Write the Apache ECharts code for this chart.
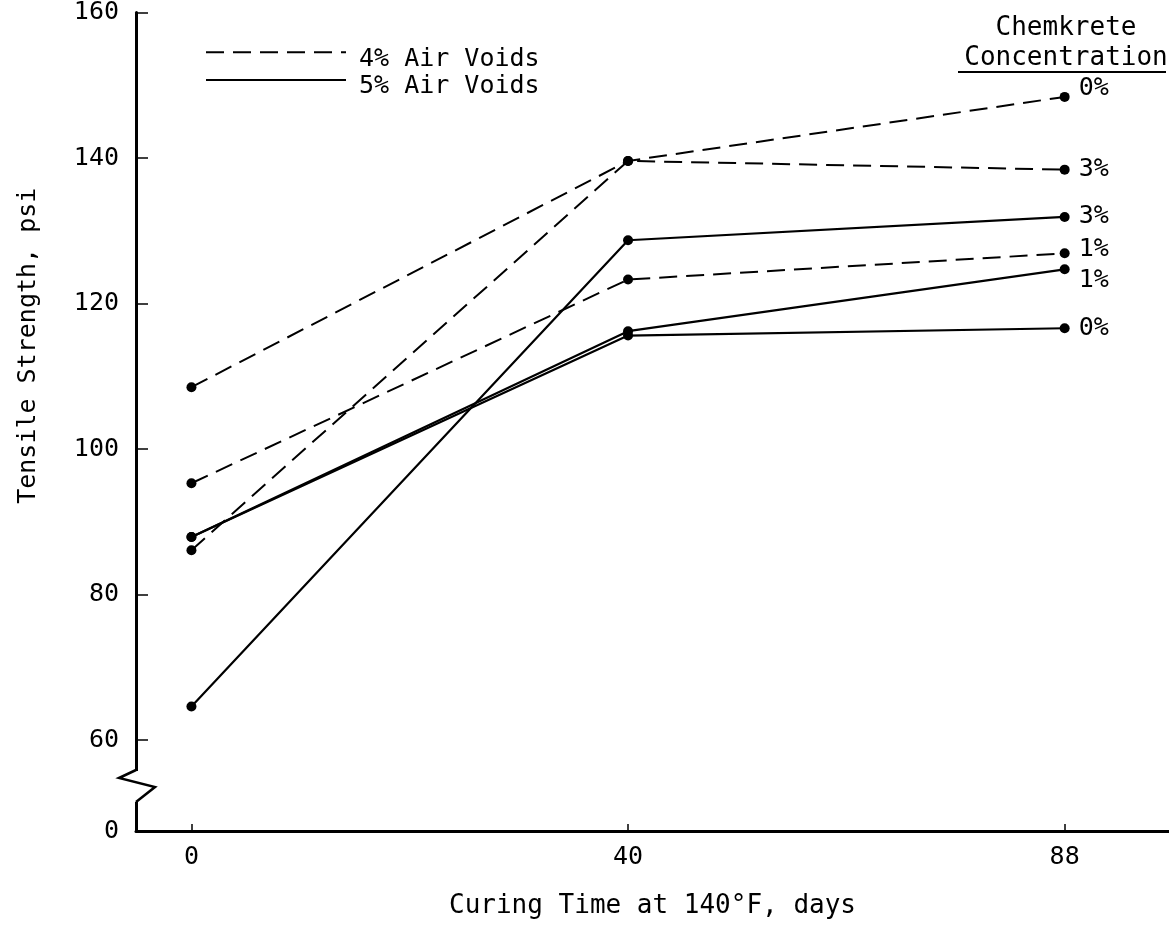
<!DOCTYPE html>
<html>
<head>
    <meta charset="utf-8" />
    <style>
        html, body { margin: 0; padding: 0; background: #fff; }
        #chart { width: 1169px; height: 928px; }
    </style>
    <script src="https://cdn.jsdelivr.net/npm/echarts@6/dist/echarts.min.js"></script>
</head>
<body>
    <div id="chart"></div>
    <script type="text/javascript">
        // curing time categories (days) - drawn evenly spaced like the original
        var days = ['0', '40', '88'];
        var yTicks = [60, 80, 100, 120, 140, 160];

        // tensile strength, psi - 4% air voids (dashed)
        var av4_conc0 = [108.5, 139.6, 148.4];
        var av4_conc3 = [86.1, 139.6, 138.4];
        var av4_conc1 = [95.3, 123.3, 126.9];
        // 5% air voids (solid)
        var av5_conc3 = [64.6, 128.7, 131.9];
        var av5_conc1 = [87.9, 116.2, 124.7];
        var av5_conc0 = [87.9, 115.6, 116.6];

        var FONT = 'DejaVu Sans Mono';
        var INK = '#000';
        var BREAK_MIN = 47.5; // bottom of broken axis, labelled 0

        function pts(vals) {
            return vals.map(function (v, i) { return [i, v]; });
        }

        function makeSeries(name, vals, dashed, conc, dy) {
            return {
                name: name,
                type: 'line',
                data: pts(vals),
                symbol: 'circle',
                symbolSize: 10,
                itemStyle: { color: INK },
                lineStyle: { color: INK, width: dashed ? 2 : 2.2, type: dashed ? [18, 9] : 'solid' },
                endLabel: {
                    show: true,
                    formatter: conc,
                    color: INK,
                    fontFamily: FONT,
                    fontSize: 25,
                    distance: 14,
                    offset: [0, dy]
                },
                emphasis: { disabled: true },
                animation: false
            };
        }

        var chart = echarts.init(document.getElementById('chart'));
        var option = {
            backgroundColor: '#fff',
            textStyle: { fontFamily: FONT, color: INK },
            title: {
                text: 'Chemkrete\nConcentration',
                left: 1061,
                top: 8,
                textAlign: 'center',
                textStyle: { fontFamily: FONT, fontSize: 26, fontWeight: 'normal', color: INK, lineHeight: 30 }
            },
            legend: {
                left: 200,
                top: 40,
                orient: 'vertical',
                itemWidth: 140,
                itemHeight: 18,
                itemGap: 1,
                data: ['4% Air Voids', '5% Air Voids'],
                itemStyle: { opacity: 0 },
                formatter: function (name) { return '{t|' + name + '}'; },
                textStyle: {
                    fontFamily: FONT, fontSize: 25, color: INK,
                    rich: { t: { fontFamily: FONT, fontSize: 25, color: INK, padding: [14, 0, 0, 8] } }
                }
            },
            grid: { left: 136, top: 12, width: 1033, height: 819 },
            xAxis: {
                type: 'value',
                min: -0.127,
                max: 2.239,
                axisLine: { onZero: false, lineStyle: { color: INK, width: 3 } },
                axisTick: { inside: true, length: 7, lineStyle: { color: INK, width: 1.5 }, customValues: [0, 1, 2] },
                axisLabel: {
                    customValues: [0, 1, 2],
                    formatter: function (v) { return days[Math.round(v)]; },
                    fontFamily: FONT, fontSize: 25, color: INK, margin: 14
                },
                splitLine: { show: false },
                name: 'Curing Time at 140°F, days',
                nameLocation: 'middle',
                nameGap: 62,
                nameTextStyle: { fontFamily: FONT, fontSize: 26, color: INK }
            },
            yAxis: {
                type: 'value',
                min: BREAK_MIN,
                max: 160,
                axisLine: { onZero: false, lineStyle: { color: INK, width: 3 } },
                axisTick: { inside: true, length: 12, lineStyle: { color: INK, width: 1.5 }, customValues: yTicks },
                axisLabel: {
                    customValues: [BREAK_MIN].concat(yTicks),
                    formatter: function (v) { return v === BREAK_MIN ? '0' : String(v); },
                    fontFamily: FONT, fontSize: 25, color: INK, margin: 17
                },
                splitLine: { show: false },
                name: 'Tensile Strength, psi',
                nameLocation: 'middle',
                nameRotate: 90,
                nameGap: 95,
                nameTextStyle: { fontFamily: FONT, fontSize: 25, color: INK, padding: [0, 0, 0, 152] }
            },
            graphic: [
                // axis break zigzag
                { type: 'rect', shape: { x: 130, y: 771, width: 12, height: 31 }, style: { fill: '#fff' }, z: 100 },
                { type: 'polyline', shape: { points: [[136, 770], [119, 778], [155, 787], [136, 802]] },
                  style: { stroke: INK, lineWidth: 2.5, fill: null }, z: 101 },
                // underline of header
                { type: 'line', shape: { x1: 958, y1: 72, x2: 1166, y2: 72 }, style: { stroke: INK, lineWidth: 2 }, z: 100 }
            ],
            series: [
                makeSeries('4% Air Voids', av4_conc0, true, '0%', -8),
                makeSeries('4% Air Voids', av4_conc3, true, '3%', 0),
                makeSeries('4% Air Voids', av4_conc1, true, '1%', -4),
                makeSeries('5% Air Voids', av5_conc3, false, '3%', 0),
                makeSeries('5% Air Voids', av5_conc1, false, '1%', 11),
                makeSeries('5% Air Voids', av5_conc0, false, '0%', 0)
            ]
        };
        chart.setOption(option);
    </script>
</body>
</html>
